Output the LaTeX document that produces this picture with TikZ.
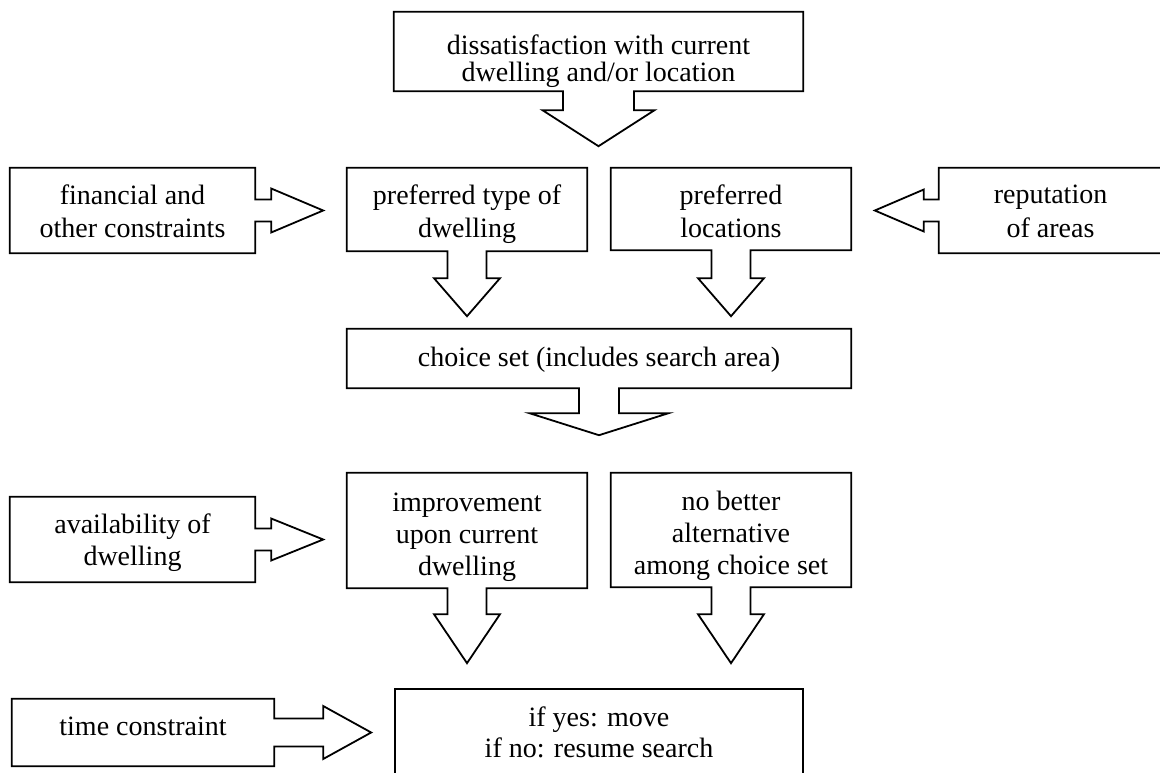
\documentclass[tikz,border=0pt]{standalone}
\usepackage{fontspec}
\setmainfont{Liberation Serif}
\usetikzlibrary{calc}
\newcommand\DCallout[5]{\draw[co] (#1.south east) -- (#1.north east) -- (#1.north west) -- (#1.south west) -- ($(#1.south)+(-#2,0)$) -- ($(#1.south)+(-#2,#3)$) -- ($(#1.south)+(-#4,#3)$) -- ($(#1.south)+(0,#5)$) -- ($(#1.south)+(#4,#3)$) -- ($(#1.south)+(#2,#3)$) -- ($(#1.south)+(#2,0)$) -- cycle;}
\newcommand\RCallout[5]{\draw[co] (#1.north west) -- (#1.north east) -- ($(#1.east)+(0,-#2)$) -- ($(#1.east)+(#3,-#2)$) -- ($(#1.east)+(#3,-#4)$) -- ($(#1.east)+(#5,0)$) -- ($(#1.east)+(#3,#4)$) -- ($(#1.east)+(#3,#2)$) -- ($(#1.east)+(0,#2)$) -- (#1.south east) -- (#1.south west) -- cycle;}
\newcommand\LCallout[5]{\draw[co] (#1.north east) -- (#1.north west) -- ($(#1.west)+(0,-#2)$) -- ($(#1.west)+(-#3,-#2)$) -- ($(#1.west)+(-#3,-#4)$) -- ($(#1.west)+(-#5,0)$) -- ($(#1.west)+(-#3,#4)$) -- ($(#1.west)+(-#3,#2)$) -- ($(#1.west)+(0,#2)$) -- (#1.south west) -- (#1.south east) -- cycle;}
\begin{document}
\begin{tikzpicture}[x=1pt,y=-1pt,
  co/.style={draw=black,line width=1.8pt,line join=miter},
  bx/.style={draw=none,inner sep=0pt,align=center,font=\fontsize{28}{32}\selectfont},
]
\useasboundingbox (0,0) rectangle (1160,773);
\clip (0,0) rectangle (1160,773);

\node[bx,minimum width=409pt,minimum height=79pt,text height=61pt,text depth=0pt,font=\fontsize{28}{27}\selectfont] (dis) at (598.5,51.5) {dissatisfaction with current\\dwelling and/or location};
\node[bx,minimum width=245pt,minimum height=85pt,text height=53pt,text depth=0pt,font=\fontsize{28}{33}\selectfont] (fin) at (132.5,210.5) {financial and\\other constraints};
\node[bx,minimum width=240pt,minimum height=83pt,text height=55pt,text depth=0pt,font=\fontsize{28}{33}\selectfont] (pt) at (467,209.5) {preferred type of\\dwelling};
\node[bx,minimum width=240pt,minimum height=82pt,text height=56pt,text depth=0pt,font=\fontsize{28}{33}\selectfont] (pl) at (731,209) {preferred\\locations};
\node[bx,minimum width=223pt,minimum height=85pt,text height=53pt,text depth=0pt,font=\fontsize{28}{34}\selectfont] (rep) at (1050.5,210.5) {reputation\\of areas};
\node[bx,minimum width=504pt,minimum height=59pt,text height=15pt,text depth=0pt] (cs) at (599,358.5) {choice set (includes search area)};
\node[bx,minimum width=245pt,minimum height=85pt,text height=51pt,text depth=0pt] (av) at (132.5,539.5) {availability of\\dwelling};
\node[bx,minimum width=240pt,minimum height=115pt,text height=89pt,text depth=0pt] (imp) at (467,530.5) {improvement\\upon current\\dwelling};
\node[bx,minimum width=240pt,minimum height=114pt,text height=88pt,text depth=0pt] (nb) at (731,530) {no better\\alternative\\among choice set};
\node[bx,minimum width=262pt,minimum height=67pt,text height=5pt,text depth=0pt] (tc) at (143,732.5) {time constraint};
\node[bx,draw=black,line width=1.8pt,minimum width=408pt,minimum height=101pt,text height=35pt,text depth=0pt,font=\fontsize{28}{31}\selectfont] (res) at (599,739.5) {if yes: move\\if no: resume search};

\DCallout{dis}{35.5}{19}{56}{55}
\RCallout{fin}{11}{16}{22}{68}
\DCallout{pt}{19.5}{27}{33}{65}
\DCallout{pl}{19.5}{28}{33}{66}
\LCallout{rep}{11}{15}{21}{64}
\DCallout{cs}{20}{25}{69.5}{47}
\RCallout{av}{11}{16}{21}{68}
\DCallout{imp}{19.5}{26}{33}{75}
\DCallout{nb}{19.5}{27}{33}{76}
\RCallout{tc}{14}{49}{26.5}{97}
\end{tikzpicture}
\end{document}
